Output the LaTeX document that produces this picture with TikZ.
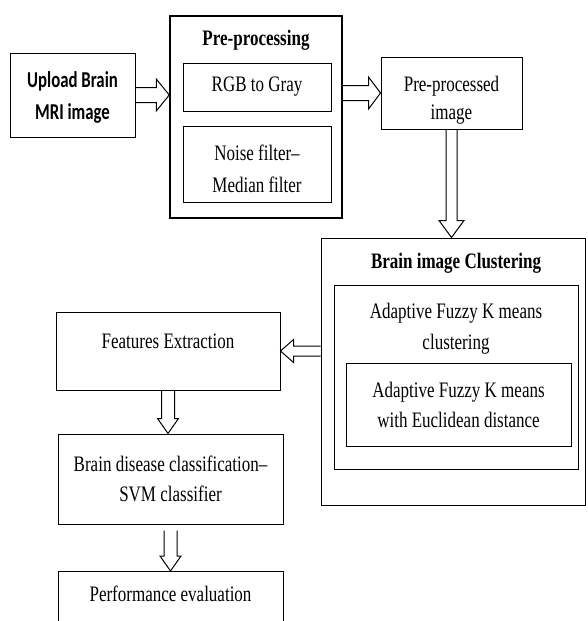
\documentclass[tikz,border=0pt]{standalone}
\usepackage{fontspec}
\usepackage{graphicx}
\setmainfont{Liberation Serif}
\newfontfamily\calfont{Carlito}
\usetikzlibrary{calc,backgrounds}
\newcommand\vs[1]{\scalebox{1}[1.3]{#1}}
\newcommand\vsc[1]{\scalebox{1}[1.35]{#1}}
\tikzset{
  box/.style={draw, line width=1pt, align=center, inner sep=0pt, font=\fontsize{17}{30}\selectfont},
  lbl/.style={align=center, inner sep=0pt, font=\fontsize{17}{30}\selectfont},
  blockarrow/.style={draw, line width=1pt, fill=white, line join=miter},
}
\newcommand\arrowR[5]{\draw[blockarrow] let \p1=(#1), \p2=(#2) in
  (\x1,\y1+#3) -- (\x2-#5,\y1+#3) -- (\x2-#5,\y1+#4) -- (\x2,\y1) -- (\x2-#5,\y1-#4) -- (\x2-#5,\y1-#3) -- (\x1,\y1-#3);}
\newcommand\arrowL[5]{\draw[blockarrow] let \p1=(#1), \p2=(#2) in
  (\x1,\y1+#3) -- (\x2+#5,\y1+#3) -- (\x2+#5,\y1+#4) -- (\x2,\y1) -- (\x2+#5,\y1-#4) -- (\x2+#5,\y1-#3) -- (\x1,\y1-#3);}
\newcommand\arrowD[5]{\draw[blockarrow] let \p1=(#1), \p2=(#2) in
  (\x1-#3,\y1) -- (\x1-#3,\y2+#5) -- (\x1-#4,\y2+#5) -- (\x1,\y2) -- (\x1+#4,\y2+#5) -- (\x1+#3,\y2+#5) -- (\x1+#3,\y1);}
\begin{document}
\begin{tikzpicture}[x=1pt,y=-1pt]
\useasboundingbox (0,0) rectangle (588,621);
\clip (0,0) rectangle (588,621);
% top row
\node[box, minimum width=125pt, minimum height=84pt] (upload) at (72.5,95) {};
\node[lbl, font=\calfont\bfseries\fontsize{16.8}{32}\selectfont] (uploadtext) at (72.5,97) {\vsc{Upload Brain}\\\vsc{MRI image}};
\node[box, line width=1.5pt, minimum width=172pt, minimum height=202pt] (pre) at (256,117) {};
\node[lbl, font=\bfseries\fontsize{17}{30}\selectfont] (pretitle) at (256,40) {\vs{Pre-processing}};
\node[box, minimum width=148pt, minimum height=48pt] (rgb) at (257,87) {\vs{RGB to Gray}};
\node[box, minimum width=148pt, minimum height=76pt] (noise) at (257,164) {};
\node[lbl, font=\fontsize{17}{32}\selectfont] (noisetext) at (257,169) {\vs{Noise filter--}\\\vs{Median filter}};
\node[box, minimum width=141pt, minimum height=72pt] (ppimg) at (451.5,93) {};
\node[lbl, font=\fontsize{17}{28}\selectfont] (ppimgtext) at (451.5,100) {\vs{Pre-processed}\\\vs{image}};
% clustering
\node[box, minimum width=264pt, minimum height=267pt] (clust) at (453,371.5) {};
\node[lbl, font=\bfseries\fontsize{17}{30}\selectfont] (clusttitle) at (456,263) {\vs{Brain image Clustering}};
\node[box, minimum width=244pt, minimum height=184pt] (afk) at (456,377) {};
\node[lbl, font=\fontsize{17}{31}\selectfont] (afktext) at (456,329) {\vs{Adaptive Fuzzy K means}\\\vs{clustering}};
\node[box, minimum width=225pt, minimum height=83pt] (afke) at (458.5,404.5) {\vs{Adaptive Fuzzy K means}\\\vs{with Euclidean distance}};
% left column
\node[box, minimum width=224pt, minimum height=78pt] (feat) at (168,351) {};
\node[lbl] (feattext) at (168,341) {\vs{Features Extraction}};
\node[box, minimum width=225pt, minimum height=90pt] (svm) at (170.5,479) {\vs{Brain disease classification--}\\\vs{SVM classifier}};
\node[box, anchor=north, minimum width=225pt, text height=15pt, text depth=40pt, inner ysep=15pt] (perf) at (170.5,571) {\vs{Performance evaluation}};
% arrows
\begin{scope}[on background layer]
\arrowR{upload.east}{pre.west |- upload.east}{7.5pt}{16pt}{13pt}
\arrowR{pre.east |- ppimg.west}{ppimg.west}{7.5pt}{16pt}{12pt}
\arrowD{ppimg.south}{ppimg.south |- clust.north}{5.5pt}{12.5pt}{17pt}
\arrowL{clust.west |- feat.east}{feat.east}{5pt}{11.5pt}{13pt}
\arrowD{feat.south}{feat.south |- svm.north}{6.5pt}{10.5pt}{15pt}
\arrowD{$(svm.south)+(0,6)$}{svm.south |- perf.north}{6.5pt}{10.5pt}{15pt}
\end{scope}
\end{tikzpicture}
\end{document}
